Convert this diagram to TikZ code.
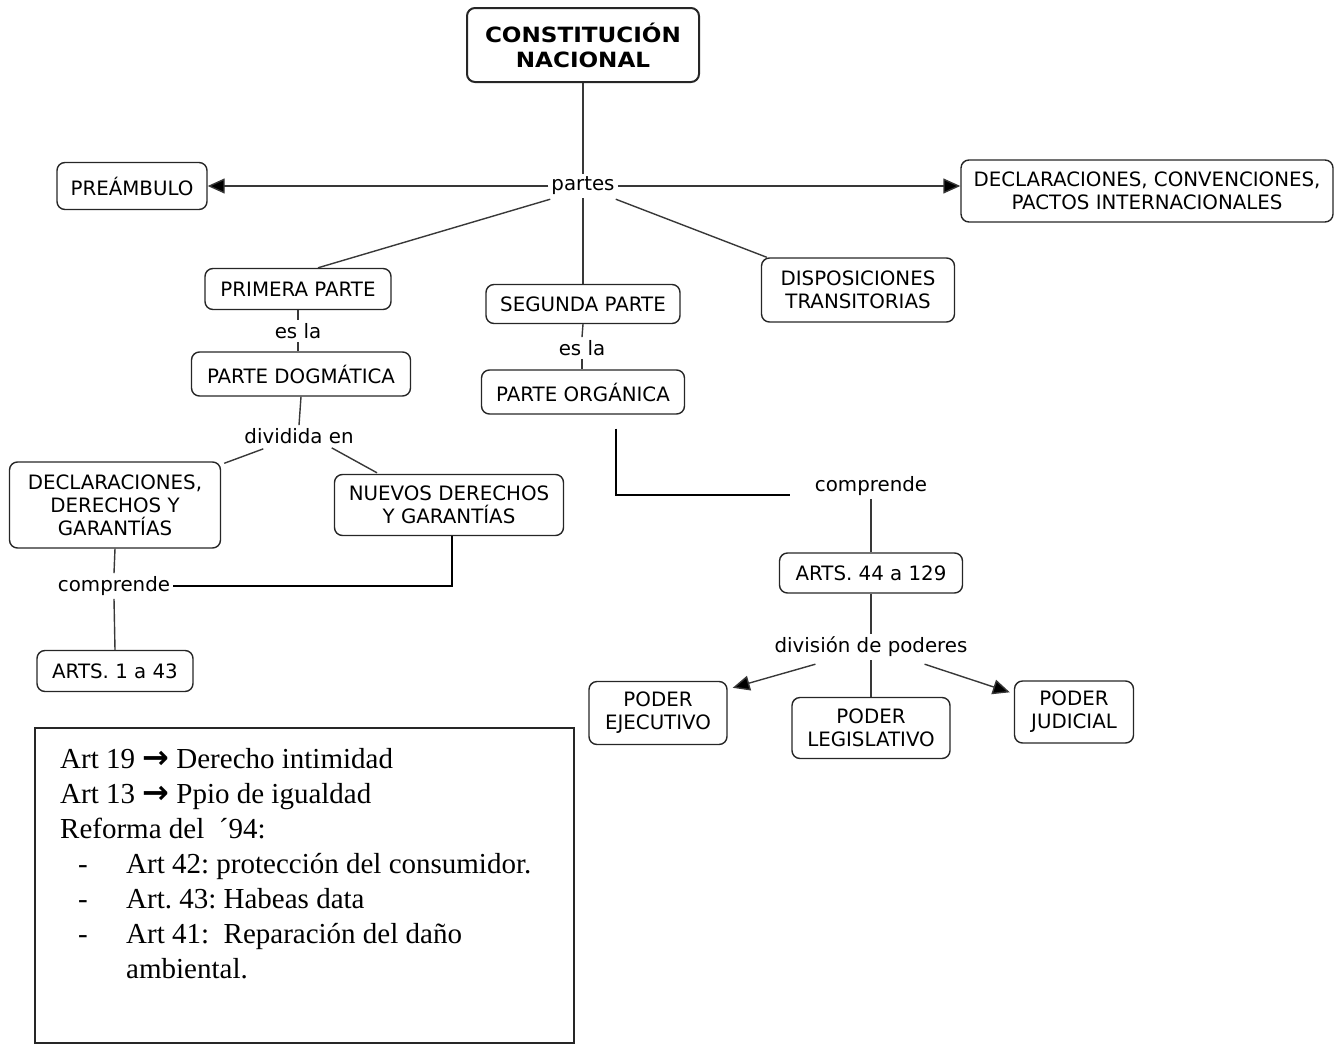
\documentclass[tikz,border=0pt]{standalone}
\usepackage{fontspec}
\usetikzlibrary{arrows.meta,calc}
\newfontfamily\dv{DejaVu Sans}
\newfontfamily\tms{Liberation Serif}
\frenchspacing
\begin{document}
\begin{tikzpicture}[x=1pt,y=-1pt,
  box/.style={draw=black!85, line width=1.4pt, rounded corners=8pt, align=center, inner sep=0pt, font=\dv\fontsize{19.8}{23}\selectfont},
  lbl/.style={inner sep=3pt, font=\dv\fontsize{19.8}{23}\selectfont},
  conn/.style={draw=black!78, line width=1.4pt},
  heavy/.style={draw=black, line width=2.6pt},
  arr/.style={conn, -{Triangle[length=17pt,width=15pt,fill=black]}}]
\useasboundingbox (0,0) rectangle (1335,1044);
% nodes
\node[box, line width=2pt, minimum width=232pt, minimum height=74pt, font=\dv\bfseries\fontsize{21}{25}\selectfont] (cn) at (583,45) {\scalebox{1.1}[1]{CONSTITUCIÓN}\\\scalebox{1.1}[1]{NACIONAL}};
\node[lbl] (partes) at (583,186) {partes};
\node[box, minimum width=150pt, minimum height=47pt] (pre) at (132,186) {PREÁMBULO};
\node[box, minimum width=372pt, minimum height=62pt] (intl) at (1147,191) {DECLARACIONES, CONVENCIONES,\\PACTOS INTERNACIONALES};
\node[box, minimum width=186pt, minimum height=41pt] (prim) at (298,289) {PRIMERA PARTE};
\node[box, minimum width=194pt, minimum height=39pt] (seg) at (583,304) {SEGUNDA PARTE};
\node[box, minimum width=193pt, minimum height=64pt] (disp) at (858,290) {DISPOSICIONES\\TRANSITORIAS};
\node[lbl] (esla1) at (298,331) {es la};
\node[box, minimum width=219pt, minimum height=44pt] (dog) at (301,374) {PARTE DOGMÁTICA};
\node[lbl] (esla2) at (582,348) {es la};
\node[box, minimum width=203pt, minimum height=44pt] (org) at (583,392) {PARTE ORGÁNICA};
\node[lbl] (div) at (299,436) {dividida en};
\node[box, minimum width=211pt, minimum height=86pt] (decl) at (115,505) {DECLARACIONES,\\DERECHOS Y\\GARANTÍAS};
\node[box, minimum width=229pt, minimum height=61pt] (nuevos) at (449,505) {NUEVOS DERECHOS\\Y GARANTÍAS};
\node[lbl] (comp1) at (114,586) {comprende};
\node[box, minimum width=156pt, minimum height=41pt] (art1) at (115,671) {ARTS. 1 a 43};
\node[lbl] (comp2) at (871,486) {comprende};
\node[box, minimum width=183pt, minimum height=40pt] (art44) at (871,573) {ARTS. 44 a 129};
\node[lbl] (divp) at (871,647) {división de poderes};
\node[box, minimum width=138pt, minimum height=63pt] (ejec) at (658,713) {PODER\\EJECUTIVO};
\node[box, minimum width=158pt, minimum height=61pt] (legis) at (871,728) {PODER\\LEGISLATIVO};
\node[box, minimum width=119pt, minimum height=62pt] (jud) at (1074,712) {PODER\\JUDICIAL};
% connectors
\draw[conn] (cn.south) -- (partes.north);
\draw[arr] (partes.west) -- (pre.east);
\draw[arr] (partes.east) -- (partes.east -| intl.west);
\draw[conn] (partes.south) -- (seg.north);
\draw[conn] ($(partes.south west)+(2,1)$) -- ($(prim.north)+(20,0)$);
\draw[conn] ($(partes.south east)+(-2,1)$) -- ($(disp.north west)+(6,0)$);
\draw[conn] (prim.south) -- (esla1.north);
\draw[conn] (esla1.south) -- (dog.north -| esla1.south);
\draw[conn] (seg.south) -- (esla2.north);
\draw[conn] (esla2.south) -- (org.north -| esla2.south);
\draw[conn] (dog.south) -- (div.north);
\draw[conn] ($(div.south west)+(22,2)$) -- ($(decl.north east)+(3,2)$);
\draw[conn] ($(div.south east)+(-25,1)$) -- ($(nuevos.north)+(-72,-1)$);
\draw[conn] (decl.south) -- (comp1.north);
\draw[conn] (comp1.south) -- (art1.north);
\draw[heavy] ($(nuevos.south)+(3,0)$) |- (comp1.east);
\draw[heavy] ($(org.south)+(33,14)$) |- ($(comp2.west)+(-22,9)$);
\draw[conn] (comp2.south) -- (comp2.south |- art44.north);
\draw[conn] (art44.south) -- (art44.south |- divp.north);
\draw[arr] ($(divp.south west)+(44,4)$) -- ($(ejec.north east)+(5,7)$);
\draw[conn] (divp.south) -- (divp.south |- legis.north);
\draw[arr] ($(divp.south east)+(-46,4)$) -- ($(jud.north west)+(-4,12)$);
% notes box
\draw[line width=1.5pt, draw=black!85] (35,728) rectangle (574,1043);
\node[anchor=north west, inner sep=0pt, align=left, font=\tms\fontsize{29}{35}\selectfont] (notes) at (60,748) {%
Art 19 {\dv\bfseries\fontsize{32}{35}\selectfont →} Derecho intimidad\\
Art 13 {\dv\bfseries\fontsize{32}{35}\selectfont →} Ppio de igualdad\\
Reforma del \ ´94:\\
\makebox[66pt][l]{\hspace*{18pt}-}Art 42: protección del consumidor.\\
\makebox[66pt][l]{\hspace*{18pt}-}Art. 43: Habeas data\\
\makebox[66pt][l]{\hspace*{18pt}-}Art 41: \ Reparación del daño\\
\makebox[66pt][l]{}ambiental.};
\end{tikzpicture}
\end{document}
